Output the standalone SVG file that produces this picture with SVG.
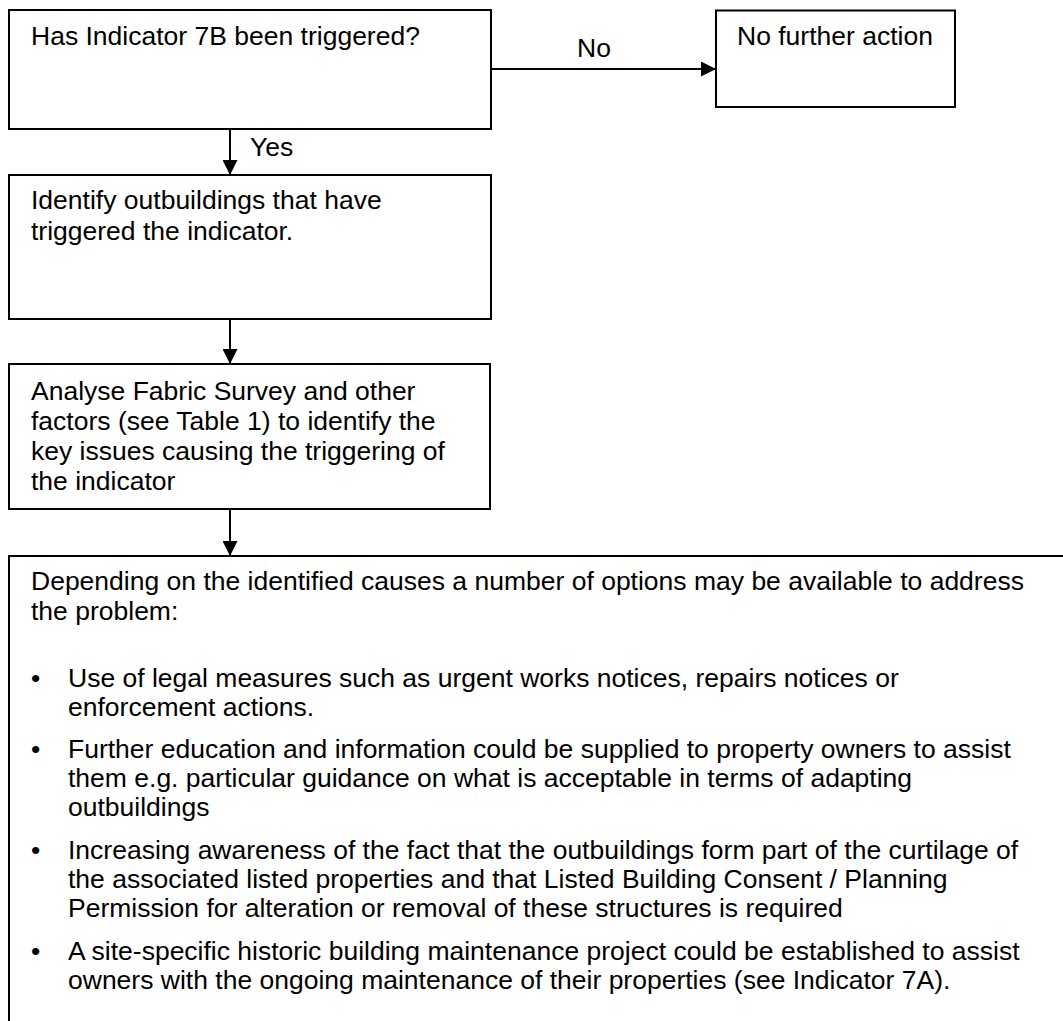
<svg xmlns="http://www.w3.org/2000/svg" width="1063" height="1021" viewBox="0 0 1063 1021">
<style>
.box{fill:#fff;stroke:#000;stroke-width:2}
.t{font-family:"Liberation Sans",Arial,sans-serif;font-size:26.5px;fill:#000}
.ln{stroke:#000;stroke-width:2;fill:none}
</style>
<defs>
<marker id="ah" markerWidth="15" markerHeight="15" refX="15" refY="7.5" orient="auto" markerUnits="userSpaceOnUse">
<path d="M0,0 L15,7.5 L0,15 Z" fill="#000"/>
</marker>
</defs>
<rect width="1063" height="1021" fill="#fff"/>
<g id="connectors">
<line class="ln" x1="491" y1="69" x2="716" y2="69" marker-end="url(#ah)"/>
<text class="t" x="577" y="57">No</text>
<line class="ln" x1="230" y1="129" x2="230" y2="175" marker-end="url(#ah)"/>
<text class="t" x="250" y="156">Yes</text>
<line class="ln" x1="230" y1="319" x2="230" y2="364" marker-end="url(#ah)"/>
<line class="ln" x1="230" y1="509" x2="230" y2="556" marker-end="url(#ah)"/>
</g>
<g id="n1">
<rect class="box" x="9" y="10" width="482" height="119"/>
<text class="t" x="31" y="45">Has Indicator 7B been triggered?</text>
</g>
<g id="n2">
<rect class="box" x="716" y="10.5" width="239" height="96.5"/>
<text class="t" x="737" y="45">No further action</text>
</g>
<g id="n3">
<rect class="box" x="9" y="175" width="482" height="144"/>
<text class="t" x="31" y="209">Identify outbuildings that have</text>
<text class="t" x="31" y="240">triggered the indicator.</text>
</g>
<g id="n4">
<rect class="box" x="9" y="364" width="481" height="145"/>
<text class="t" x="31" y="400">Analyse Fabric Survey and other</text>
<text class="t" x="31" y="430">factors (see Table 1) to identify the</text>
<text class="t" x="31" y="460">key issues causing the triggering of</text>
<text class="t" x="31" y="490">the indicator</text>
</g>
<g id="n5">
<rect class="box" x="9" y="556" width="1080" height="500"/>
<text class="t" x="31" y="590">Depending on the identified causes a number of options may be available to address</text>
<text class="t" x="31" y="620">the problem:</text>
<text class="t" x="31" y="687">•</text>
<text class="t" x="68" y="687">Use of legal measures such as urgent works notices, repairs notices or</text>
<text class="t" x="68" y="716">enforcement actions.</text>
<text class="t" x="31" y="758">•</text>
<text class="t" x="68" y="758">Further education and information could be supplied to property owners to assist</text>
<text class="t" x="68" y="787">them e.g. particular guidance on what is acceptable in terms of adapting</text>
<text class="t" x="68" y="816">outbuildings</text>
<text class="t" x="31" y="859">•</text>
<text class="t" x="68" y="859">Increasing awareness of the fact that the outbuildings form part of the curtilage of</text>
<text class="t" x="68" y="888">the associated listed properties and that Listed Building Consent / Planning</text>
<text class="t" x="68" y="917">Permission for alteration or removal of these structures is required</text>
<text class="t" x="31" y="960">•</text>
<text class="t" x="68" y="960">A site-specific historic building maintenance project could be established to assist</text>
<text class="t" x="68" y="989">owners with the ongoing maintenance of their properties (see Indicator 7A).</text>
</g>
</svg>
